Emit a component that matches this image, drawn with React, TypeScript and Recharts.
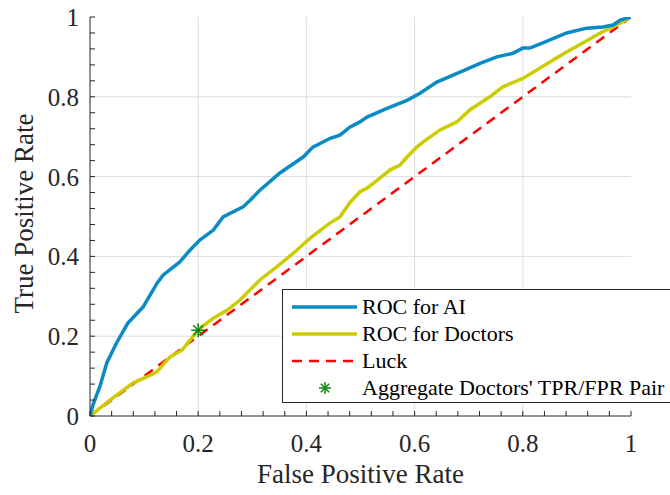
import React from "react";
import { ComposedChart, Line, XAxis, YAxis, ReferenceLine, Legend } from "recharts";

// ROC curve points
const aiFpr = [0, 0.006, 0.018, 0.031, 0.049, 0.07, 0.098, 0.124, 0.135, 0.166, 0.185, 0.203, 0.228, 0.246, 0.283, 0.296, 0.314, 0.351, 0.394, 0.412, 0.444, 0.462, 0.48, 0.499, 0.512, 0.549, 0.586, 0.61, 0.641, 0.684, 0.721, 0.752, 0.782, 0.8, 0.813, 0.837, 0.881, 0.918, 0.948, 0.967, 0.98, 1];
const aiTpr = [0, 0.03, 0.073, 0.133, 0.183, 0.233, 0.273, 0.333, 0.353, 0.386, 0.416, 0.441, 0.466, 0.499, 0.524, 0.541, 0.566, 0.609, 0.649, 0.674, 0.696, 0.704, 0.724, 0.737, 0.749, 0.771, 0.791, 0.809, 0.837, 0.862, 0.884, 0.9, 0.909, 0.922, 0.922, 0.935, 0.96, 0.972, 0.975, 0.98, 0.992, 1];

const docFpr = [0, 0.037, 0.08, 0.105, 0.123, 0.148, 0.17, 0.185, 0.203, 0.228, 0.253, 0.277, 0.314, 0.345, 0.376, 0.407, 0.444, 0.462, 0.48, 0.499, 0.512, 0.536, 0.555, 0.573, 0.586, 0.604, 0.616, 0.647, 0.678, 0.702, 0.739, 0.763, 0.8, 0.832, 0.856, 0.881, 0.911, 0.943, 0.974, 1];
const docTpr = [0, 0.04, 0.083, 0.098, 0.11, 0.148, 0.165, 0.19, 0.22, 0.245, 0.265, 0.29, 0.341, 0.374, 0.408, 0.446, 0.484, 0.499, 0.534, 0.562, 0.571, 0.596, 0.617, 0.629, 0.649, 0.674, 0.687, 0.717, 0.737, 0.767, 0.8, 0.825, 0.846, 0.872, 0.892, 0.912, 0.935, 0.96, 0.98, 1];

const luckFpr = [0, 1];
const luckTpr = [0, 1];

const aggFpr = [0.2];
const aggTpr = [0.215];

const tickValues = [0, 0.04, 0.08, 0.12, 0.16, 0.2, 0.24, 0.28, 0.32, 0.36, 0.4, 0.44, 0.48, 0.52, 0.56, 0.6, 0.64, 0.68, 0.72, 0.76, 0.8, 0.84, 0.88, 0.92, 0.96, 1];
const gridValues = [0.2, 0.4, 0.6, 0.8];

const seriesNames = ["ROC for AI", "ROC for Doctors", "Luck", "Aggregate Doctors' TPR/FPR Pair"];

const toPoints = (xs: number[], ys: number[]) => xs.map((x, i) => ({ fpr: x, tpr: ys[i] }));
const aiData = toPoints(aiFpr, aiTpr);
const docData = toPoints(docFpr, docTpr);
const luckData = toPoints(luckFpr, luckTpr);
const aggData = toPoints(aggFpr, aggTpr);

const AXIS = "#262626";
const BLUE = "#0b8bc6";
const YELLOW = "#cccc00";
const RED = "#ff0000";
const GREEN = "#0c8a0c";
const FONT = "Liberation Serif";
const TICK_LEN = 5;

const isMajor = (v: number) => Math.abs(v * 5 - Math.round(v * 5)) < 1e-6;
const fmt = (v: number) => (v === 0 ? "0" : v === 1 ? "1" : String(Math.round(v * 10) / 10));

function Star({ cx, cy, r = 7 }: { cx: number; cy: number; r?: number }) {
  const d = r * 0.7071;
  return (
    <g stroke={GREEN} strokeWidth={1.5}>
      <line x1={cx - r} y1={cy} x2={cx + r} y2={cy} />
      <line x1={cx} y1={cy - r} x2={cx} y2={cy + r} />
      <line x1={cx - d} y1={cy - d} x2={cx + d} y2={cy + d} />
      <line x1={cx - d} y1={cy + d} x2={cx + d} y2={cy - d} />
    </g>
  );
}

function BottomTick(props: any) {
  const { x, y, payload } = props;
  const v = payload.value;
  return (
    <g>
      <line x1={x} x2={x} y1={y} y2={y - TICK_LEN} stroke={AXIS} />
      {isMajor(v) && (
        <text x={x} y={y + 36} textAnchor="middle" style={{ fontFamily: FONT, fontSize: 25 }} fill={AXIS}>
          {fmt(v)}
        </text>
      )}
    </g>
  );
}

function LeftTick(props: any) {
  const { x, y, payload } = props;
  const v = payload.value;
  return (
    <g>
      <line x1={x} x2={x + TICK_LEN} y1={y} y2={y} stroke={AXIS} />
      {isMajor(v) && (
        <text x={x - 11} y={y + 9} textAnchor="end" style={{ fontFamily: FONT, fontSize: 25 }} fill={AXIS}>
          {fmt(v)}
        </text>
      )}
    </g>
  );
}

function TopTick(props: any) {
  const { x, y } = props;
  return <line x1={x} x2={x} y1={y} y2={y + TICK_LEN} stroke={AXIS} />;
}

function RightTick(props: any) {
  const { x, y } = props;
  return <line x1={x} x2={x - TICK_LEN} y1={y} y2={y} stroke={AXIS} />;
}

function LegendBox() {
  const sample = (i: number) => {
    if (i === 0) return <line x1={0} x2={65} y1={10} y2={10} stroke={BLUE} strokeWidth={3.5} />;
    if (i === 1) return <line x1={0} x2={65} y1={10} y2={10} stroke={YELLOW} strokeWidth={3.5} />;
    if (i === 2) return <line x1={0} x2={65} y1={10} y2={10} stroke={RED} strokeWidth={2.5} strokeDasharray="10 7" />;
    return <Star cx={33} cy={10} r={6} />;
  };
  return (
    <div
      style={{
        border: `1px solid ${AXIS}`,
        background: "#fff",
        width: 420,
        height: 114,
        boxSizing: "border-box",
        paddingTop: 3,
        paddingLeft: 9,
        fontFamily: FONT,
        fontSize: 22,
        color: "#000",
        textAlign: "left",
      }}
    >
      {seriesNames.map((name, i) => (
        <div key={name} style={{ display: "flex", alignItems: "center", height: 27, whiteSpace: "nowrap" }}>
          <svg width={70} height={20} style={{ flex: "none" }}>
            {sample(i)}
          </svg>
          <span style={{ fontFamily: FONT }}>{name}</span>
        </div>
      ))}
    </div>
  );
}

export default function App() {
  return (
    <div style={{ position: "absolute", left: 0, top: 0, width: 670, height: 495, overflow: "hidden", background: "#fff", fontFamily: FONT }}>
      <ComposedChart width={670} height={495} margin={{ top: 17, right: 39, bottom: 0, left: 0 }} style={{ fontFamily: FONT }}>
        <XAxis
          xAxisId="b"
          dataKey="fpr"
          type="number"
          domain={[0, 1]}
          ticks={tickValues}
          interval={0}
          orientation="bottom"
          height={79}
          tickSize={0}
          tickMargin={0}
          tickLine={false}
          tick={<BottomTick />}
          axisLine={{ stroke: AXIS }}
          allowDataOverflow
          label={{
            content: (p: any) => {
              const vb = p.viewBox;
              return (
                <text x={vb.x + vb.width / 2} y={483} textAnchor="middle" style={{ fontFamily: FONT, fontSize: 27 }} fill={AXIS}>
                  False Positive Rate
                </text>
              );
            },
          }}
        />
        <XAxis
          xAxisId="t"
          dataKey="fpr"
          type="number"
          domain={[0, 1]}
          ticks={tickValues}
          interval={0}
          orientation="top"
          height={0}
          tickSize={0}
          tickMargin={0}
          tickLine={false}
          tick={<TopTick />}
          axisLine={{ stroke: AXIS }}
        />
        <YAxis
          yAxisId="l"
          type="number"
          domain={[0, 1]}
          ticks={tickValues}
          interval={0}
          orientation="left"
          width={90}
          tickSize={0}
          tickMargin={0}
          tickLine={false}
          tick={<LeftTick />}
          axisLine={{ stroke: AXIS }}
          allowDataOverflow
          label={{
            content: (p: any) => {
              const vb = p.viewBox;
              const cy = vb.y + vb.height / 2 - 3;
              return (
                <text x={33} y={cy} transform={`rotate(-90 33 ${cy})`} textAnchor="middle" style={{ fontFamily: FONT, fontSize: 27 }} fill={AXIS}>
                  True Positive Rate
                </text>
              );
            },
          }}
        />
        <YAxis
          yAxisId="r"
          type="number"
          domain={[0, 1]}
          ticks={tickValues}
          interval={0}
          orientation="right"
          width={0}
          tickSize={0}
          tickMargin={0}
          tickLine={false}
          tick={<RightTick />}
          axisLine={{ stroke: AXIS }}
        />
        {gridValues.map((v) => (
          <ReferenceLine key={`gx${v}`} xAxisId="b" yAxisId="l" x={v} stroke="#dedede" strokeWidth={1} />
        ))}
        {gridValues.map((v) => (
          <ReferenceLine key={`gy${v}`} xAxisId="b" yAxisId="l" y={v} stroke="#dedede" strokeWidth={1} />
        ))}
        <Line
          xAxisId="b"
          yAxisId="l"
          data={luckData}
          dataKey="tpr"
          type="linear"
          stroke={RED}
          strokeWidth={2.5}
          strokeDasharray="10 7"
          dot={false}
          isAnimationActive={false}
        />
        <Line
          xAxisId="b"
          yAxisId="l"
          data={docData}
          dataKey="tpr"
          type="linear"
          stroke={YELLOW}
          strokeWidth={3.5}
          dot={false}
          isAnimationActive={false}
        />
        <Line
          xAxisId="b"
          yAxisId="l"
          data={aiData}
          dataKey="tpr"
          type="linear"
          stroke={BLUE}
          strokeWidth={3.5}
          dot={false}
          isAnimationActive={false}
        />
        <Line
          xAxisId="b"
          yAxisId="l"
          data={aggData}
          dataKey="tpr"
          type="linear"
          stroke="none"
          dot={(p: any) => <Star key="agg" cx={p.cx} cy={p.cy} />}
          isAnimationActive={false}
        />
        <Legend
          layout="horizontal"
          verticalAlign="middle"
          align="center"
          content={() => <LegendBox />}
          wrapperStyle={{ left: 282, top: 289, width: 420, margin: 0 }}
        />
      </ComposedChart>
    </div>
  );
}
